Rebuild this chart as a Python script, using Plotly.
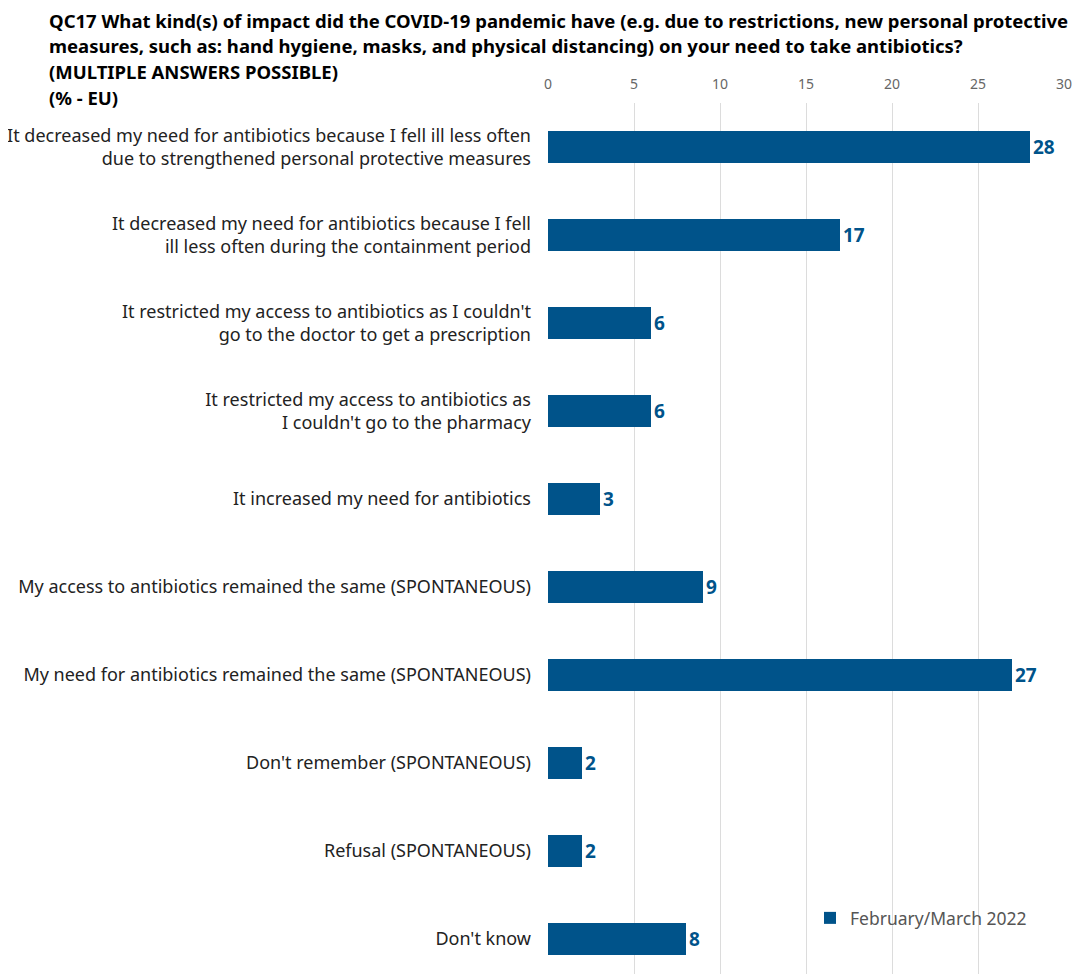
import plotly.graph_objects as go

categories = [
    "It decreased my need for antibiotics because I fell ill less often<br>due to strengthened personal protective measures",
    "It decreased my need for antibiotics because I fell<br>ill less often during the containment period",
    "It restricted my access to antibiotics as I couldn't<br>go to the doctor to get a prescription",
    "It restricted my access to antibiotics as<br>I couldn't go to the pharmacy",
    "It increased my need for antibiotics",
    "My access to antibiotics remained the same (SPONTANEOUS)",
    "My need for antibiotics remained the same (SPONTANEOUS)",
    "Don't remember (SPONTANEOUS)",
    "Refusal (SPONTANEOUS)",
    "Don't know",
]
values = [28, 17, 6, 6, 3, 9, 27, 2, 2, 8]
series_name = "February/March 2022"
x_ticks = [0, 5, 10, 15, 20, 25, 30]

title_lines = [
    "QC17 What kind(s) of impact did the COVID-19 pandemic have (e.g. due to restrictions, new personal protective",
    "measures, such as: hand hygiene, masks, and physical distancing) on your need to take antibiotics?",
    "(MULTIPLE ANSWERS POSSIBLE)",
    "(% - EU)",
]

BLUE = "#00538a"
FONT = "Noto Sans"

W, H = 1075, 966  # page body has an 8px default margin
L, T, R = 540, 95, 19

fig = go.Figure()
fig.add_trace(go.Bar(
    x=values,
    y=list(range(len(categories))),
    orientation="h",
    width=0.36,
    marker=dict(color=BLUE, line=dict(width=0)),
    text=[f"<b>{v}</b>" for v in values],
    textposition="outside",
    textfont=dict(color=BLUE, size=19, family=FONT),
    cliponaxis=False,
    name=series_name,
    showlegend=True,
))

fig.update_layout(
    width=W,
    height=H,
    paper_bgcolor="white",
    plot_bgcolor="white",
    margin=dict(l=L, r=R, t=T, b=0),
    font=dict(family=FONT, color="#222222"),
    bargap=0,
    legend=dict(
        x=(802 - L) / (W - L - R), xanchor="left",
        y=(H - 910) / (H - T), yanchor="middle",
        bgcolor="rgba(0,0,0,0)",
        font=dict(size=17.5, color="#555555", family=FONT),
        itemwidth=30,
    ),
    xaxis=dict(
        side="top",
        range=[0, 30],
        tickvals=x_ticks,
        showgrid=True,
        gridcolor="#dcdcdc",
        gridwidth=1,
        zeroline=False,
        showline=False,
        tickfont=dict(size=14, color="#666666", family=FONT),
        ticks="",
        ticklabelstandoff=10,
    ),
    yaxis=dict(
        range=[9.4, -0.5],
        tickvals=list(range(len(categories))),
        ticktext=categories,
        showgrid=False,
        zeroline=False,
        showline=False,
        ticks="",
        tickfont=dict(size=18, color="#222222", family=FONT),
        ticklabelstandoff=16,
    ),
)

for i, line in enumerate(title_lines):
    fig.add_annotation(
        text=f"<b>{line}</b>",
        xref="paper", yref="paper",
        x=0, xshift=-L + 39, xanchor="left",
        y=1, yshift=T - (12 + 25.7 * i), yanchor="middle",
        showarrow=False,
        font=dict(size=18.5, color="#000000", family=FONT),
    )

fig.write_html("out.html")
